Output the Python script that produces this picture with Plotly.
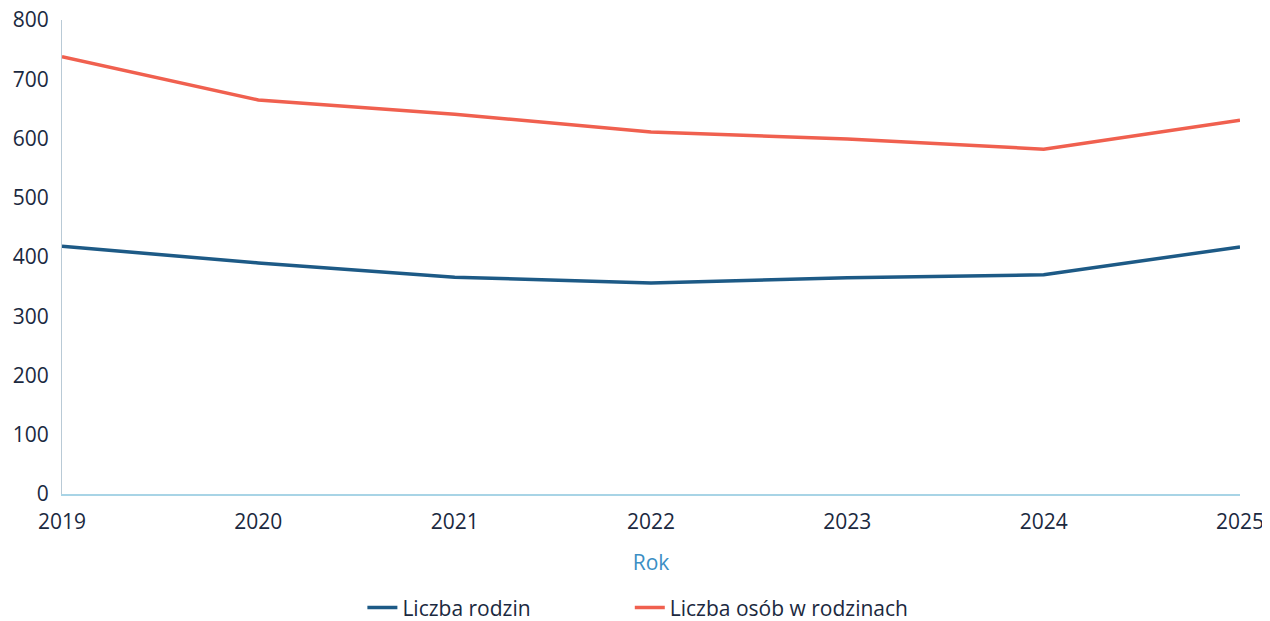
import plotly.graph_objects as go

years = [2019, 2020, 2021, 2022, 2023, 2024, 2025]
liczba_rodzin = [418, 390, 366, 356, 365, 370, 417]
liczba_osob = [738, 665, 641, 611, 599, 582, 631]
y_ticks = [0, 100, 200, 300, 400, 500, 600, 700, 800]

fig = go.Figure()
fig.add_trace(go.Scatter(x=years, y=liczba_rodzin, mode="lines", name="Liczba rodzin",
                         line=dict(color="#1d5a86", width=3.5), legend="legend"))
fig.add_trace(go.Scatter(x=years, y=liczba_osob, mode="lines", name="Liczba osób w rodzinach",
                         line=dict(color="#f0604f", width=3.5), legend="legend2"))

leg_common = dict(orientation="h", y=-0.197, yanchor="top", xanchor="left",
                  font=dict(size=21, color="#1b2940"), bgcolor="rgba(0,0,0,0)")

fig.update_layout(
    width=1262, height=613,
    margin=dict(l=54, r=30, t=12, b=127, autoexpand=False),
    paper_bgcolor="white", plot_bgcolor="white",
    font=dict(family="Open Sans", color="#1b2940", size=21),
    showlegend=True,
    legend=dict(x=0.255, **leg_common),
    legend2=dict(x=0.482, **leg_common),
)
fig.update_xaxes(range=[2019, 2025], tickvals=years, ticktext=[str(y) for y in years],
                 showgrid=False, zeroline=False, showline=True, linecolor="#a8d4e6", linewidth=1.5,
                 ticks="", ticklabelstandoff=8, automargin=False, ticklabeloverflow="allow",
                 title=dict(text="Rok", font=dict(size=21, color="#3b8ec4"), standoff=21))
fig.update_yaxes(range=[0, 800], tickvals=y_ticks, showgrid=False, zeroline=False,
                 showline=True, linecolor="#b9cad6", linewidth=1, ticks="", ticklabelstandoff=8,
                 automargin=False, ticklabeloverflow="allow")

fig.write_html("out.html")
